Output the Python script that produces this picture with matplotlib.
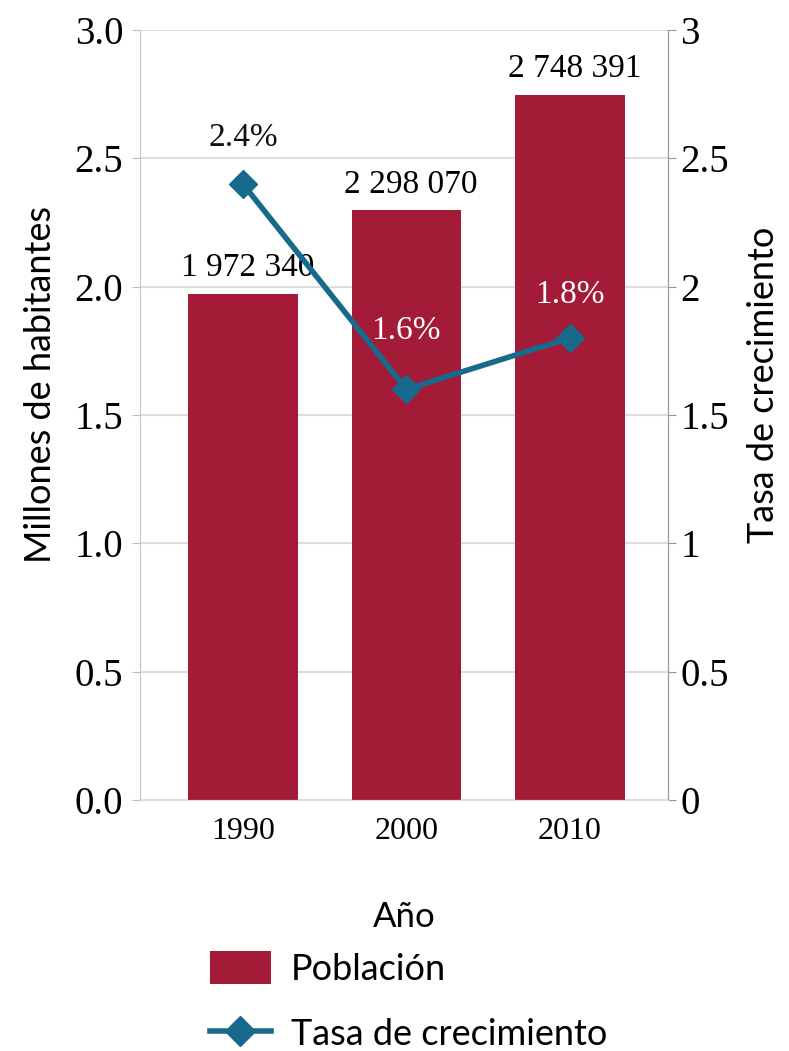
import matplotlib
matplotlib.use("Agg")
import matplotlib.pyplot as plt
from matplotlib.patches import Patch
from matplotlib.lines import Line2D

years = ["1990", "2000", "2010"]
population = [1972340, 2298070, 2748391]
population_labels = ["1 972 340", "2 298 070", "2 748 391"]
growth = [2.4, 1.6, 1.8]
growth_labels = ["2.4%", "1.6%", "1.8%"]
left_ticks = [0.0, 0.5, 1.0, 1.5, 2.0, 2.5, 3.0]
right_ticks = [0, 0.5, 1, 1.5, 2, 2.5, 3]
right_tick_labels = ["0", "0.5", "1", "1.5", "2", "2.5", "3"]

BAR = "#A31B37"
LINE = "#176A8B"
SERIF = ["Liberation Serif", "DejaVu Serif"]
SANS = ["Lato", "DejaVu Sans"]

fig = plt.figure(figsize=(7.89, 10.51), dpi=100)
ax = fig.add_axes([0.1774, 0.2388, 0.669, 0.7327])
ax2 = ax.twinx()

x = list(range(len(years)))
pop_m = [p / 1e6 for p in population]
ax.bar(x, pop_m, width=0.67, color=BAR, zorder=2)
ax.set_xlim(-0.63, 2.6)
ax.set_ylim(0, 3.0)
ax.set_yticks(left_ticks)
ax.set_yticklabels([f"{t:.1f}" for t in left_ticks], fontfamily=SERIF, fontsize=28)
ax.set_xticks(x)
ax.set_xticklabels(years, fontfamily=SERIF, fontsize=23)
ax.tick_params(axis="x", length=0, pad=12)
ax.tick_params(axis="y", length=6, color="#bbbbbb", pad=6)
ax.grid(axis="y", color="#dddddd", linewidth=1.5, zorder=0)
ax.set_axisbelow(True)
for a in (ax, ax2):
    a.spines["top"].set_visible(False)
    a.spines["left"].set_color("#c8c8c8")
    a.spines["right"].set_color("#999999")
    a.spines["bottom"].set_color("#dddddd")

for xi, v, lab in zip(x, pop_m, population_labels):
    ax.text(xi + 0.03, v + 0.1, lab, ha="center", va="center", fontfamily=SERIF, fontsize=24, zorder=5)

ax2.plot(x, growth, color=LINE, linewidth=4, marker="D", markersize=14, zorder=4)
ax2.set_ylim(0, 3)
ax2.set_yticks(right_ticks)
ax2.set_yticklabels(right_tick_labels, fontfamily=SERIF, fontsize=28)
ax2.tick_params(axis="y", length=6, color="#999999", pad=3)

label_offsets = [0.18, 0.23, 0.17]
label_colors = ["#111111", "white", "white"]
for xi, v, lab, off, c in zip(x, growth, growth_labels, label_offsets, label_colors):
    ax2.text(xi, v + off, lab, ha="center", va="center", fontfamily=SERIF, fontsize=24, color=c, zorder=6)

ax.set_ylabel("Millones de habitantes", fontfamily=SANS, fontsize=26)
ax2.set_ylabel("Tasa de crecimiento", fontfamily=SANS, fontsize=26)
ax.yaxis.set_label_coords(-0.158, 0.539)
ax2.yaxis.set_label_coords(1.15, 0.539)
ax.set_xlabel("Año", fontfamily=SANS, fontsize=25, labelpad=40)

handles = [Patch(facecolor=BAR, edgecolor="none"),
           Line2D([0], [0], color=LINE, linewidth=4, marker="D", markersize=15)]
fig.legend(handles, ["Población", "Tasa de crecimiento"], loc="upper left",
           bbox_to_anchor=(0.243, 0.112), frameon=False,
           prop={"family": SANS, "size": 26}, handlelength=1.7, handleheight=1.0,
           labelspacing=0.85, handletextpad=0.55, borderpad=0)

fig.savefig("out.png", dpi=100)
